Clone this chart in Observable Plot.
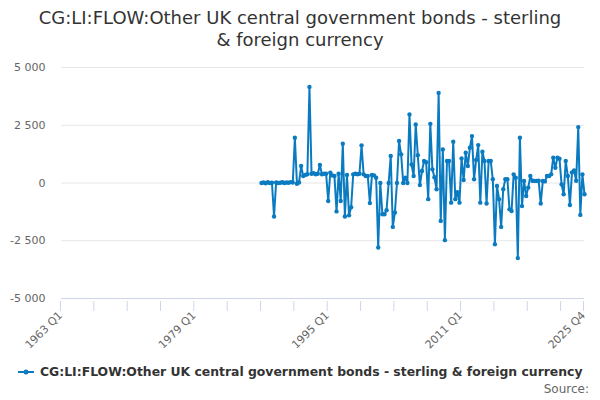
<!DOCTYPE html>
<html><head><meta charset="utf-8">
<script src="https://cdn.jsdelivr.net/npm/d3@7"></script>
<script src="https://cdn.jsdelivr.net/npm/@observablehq/plot@0.6"></script>
<style>
body{margin:0;background:#fff;font-family:"DejaVu Sans",sans-serif;}
#wrap{position:relative;width:600px;height:400px;overflow:hidden;background:#fff;}
#chart{position:absolute;left:0;top:0;}
#title{position:absolute;left:0;top:7px;width:600px;text-align:center;font-size:18px;line-height:22px;color:#333;}
#legend{position:absolute;left:18px;top:364px;font-size:12.4px;font-weight:bold;color:#333;white-space:nowrap;display:flex;align-items:center;}
#source{position:absolute;right:11px;top:382px;font-size:12px;color:#666;}
</style></head>
<body>
<div id="wrap">
  <div id="chart"></div>
  <div id="title"></div>
  <div id="legend"></div>
  <div id="source">Source:</div>
</div>
<script>
const seriesName = "CG:LI:FLOW:Other UK central government bonds - sterling & foreign currency";
const axisStart = "1963 Q1";
const firstPeriod = "1987 Q1";
const tickLabels = ["1963 Q1", "1979 Q1", "1995 Q1", "2011 Q1", "2025 Q4"];
const yTicks = [-5000, -2500, 0, 2500, 5000];
const values = [
  0, 20, -10, 30, 0, 10, -1450, 20, 0, 10, 30, 0, 20, 10, 40, 20,
  1960, -30, 20, 735, 300, 350, 380, 4160, 400, 420, 380, 400, 780, 380, 400, 400,
  -780, 450, 330, 300, -1230, 400, -780, 1700, -1450, 350, -1400, -1050, 375, 400, 380, 400,
  1630, 375, 300, 300, -870, 350, 330, 230, -2790, 0, -1350, -1350, -1180, 0, 1170, -1900,
  -1280, 0, 1815, 1240, 0, 230, 0, 2970, 800, 300, 2535, 1200, -90, 520, 950, 900,
  -700, 2560, 590, 250, -270, 3900, -1640, 1455, -2475, 950, 950, -850, 1785, -700, -400, -850,
  1065, 130, 1310, 735, 1525, 2030, 160, 1000, 1640, -850, 1350, 950, -890, 950, 950, 160,
  -2650, -130, -700, -1900, -270, 160, 160, -1140, -1210, 375, 230, -3250, 1960, -1000, 90, -560,
  -200, 300, 100, 90, 90, 100, -890, 90, 70, 300, 300, 375, 1095, 660, 1095, 1050,
  -60, -490, 950, 300, -950, 460, 540, 100, 2420, -1380, 375, -490
];

const color = "#0b7bc1";
const qIndex = s => { const [y, q] = s.split(" Q"); return (+y) * 4 + (+q - 1); };
const base = qIndex(axisStart);
const qLabel = i => { const n = i + base; return Math.floor(n / 4) + " Q" + (n % 4 + 1); };
const start = qIndex(firstPeriod) - base;
const data = values.map((v, k) => ({i: start + k, period: qLabel(start + k), v}));
const tickIdx = tickLabels.map(s => qIndex(s) - base);
const lastIdx = tickIdx[tickIdx.length - 1];
const allTicks = d3.range(0, lastIdx, 16).concat([lastIdx]);
const labelMap = new Map(tickIdx.map((t, k) => [t, tickLabels[k]]));
const fmtY = v => (v < 0 ? "-" : "") + d3.format(",")(Math.abs(v)).replace(/,/g, " ");

document.getElementById("title").innerHTML = "CG:LI:FLOW:Other UK central government bonds - sterling<br>&amp; foreign currency";
document.getElementById("legend").innerHTML =
  `<svg width="16" height="10" style="margin-right:6px"><line x1="0" x2="16" y1="5" y2="5" stroke="${color}" stroke-width="2"/><circle cx="8" cy="5" r="2.5" fill="${color}"/></svg><span>${seriesName.replace("&", "&amp;")}</span>`;

const chart = Plot.plot({
  width: 600,
  height: 400,
  marginTop: 67,
  marginBottom: 102,
  marginLeft: 61,
  marginRight: 16,
  style: {fontFamily: "DejaVu Sans, sans-serif", fontSize: "11px", background: "transparent"},
  x: {type: "linear", domain: [0, lastIdx]},
  y: {domain: [-5000, 5000]},
  marks: [
    Plot.gridY(yTicks.filter(v => v > -5000), {stroke: "#e6e6e6", strokeOpacity: 1}),
    Plot.ruleY([-5000], {stroke: "#ccd6eb"}),
    Plot.axisY(yTicks, {tickSize: 0, tickPadding: 16, tickFormat: fmtY, fill: "#666", label: null, fontSize: 11}),
    Plot.axisX(allTicks, {tickSize: 10, stroke: "#ccd6eb", strokeOpacity: 1, fill: "#666", tickRotate: -45, tickPadding: 2, dx: -1, dy: 3, tickFormat: i => labelMap.get(i) || "", label: null, fontSize: 11}),
    Plot.line(data, {x: "i", y: "v", stroke: color, strokeWidth: 2}),
    Plot.dot(data, {x: "i", y: "v", r: 2.2, fill: color, stroke: "none"})
  ]
});
document.getElementById("chart").appendChild(chart);
</script>
</body></html>
